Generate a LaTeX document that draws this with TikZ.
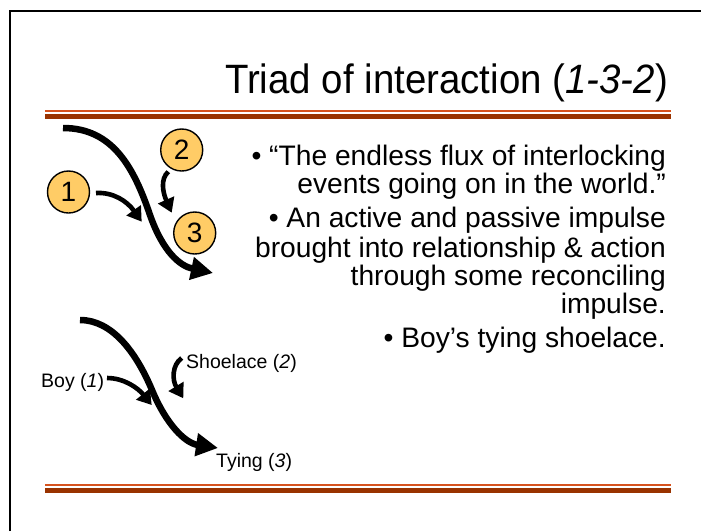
\documentclass[tikz,border=0pt]{standalone}
\usepackage{fontspec}
\usepackage{graphicx}
\setmainfont{Liberation Sans}
\usetikzlibrary{arrows.meta}
\definecolor{rulethin}{RGB}{214,82,30}
\definecolor{rulethick}{RGB}{153,51,0}
\definecolor{ballfill}{RGB}{255,204,102}
\tikzset{
 ball/.style={circle,draw=black,line width=1.4pt,fill=ballfill,minimum size=42pt,inner sep=0pt,font=\fontsize{28}{30}\selectfont},
 flow/.style={line width=6.5pt,-{Triangle[length=22pt,width=22pt]}},
 feed/.style={line width=4.6pt,-{Triangle[length=14pt,width=17pt]}},
 bodyline/.style={anchor=base east,inner sep=0pt,font=\fontsize{28.2}{30}\selectfont},
 lab/.style={anchor=base west,inner sep=0pt,font=\fontsize{19.5}{21}\selectfont},
 thinrule/.style={rulethin,line width=2pt},
 thickrule/.style={rulethick,line width=5.5pt},
}
\begin{document}
\begin{tikzpicture}[x=1pt,y=-1pt]
\useasboundingbox (0,0) rectangle (701,531);
\fill[white] (0,0) rectangle (701,531);
% slide frame
\coordinate (fb) at (9.5,531);
\coordinate (fc) at (9.5,11);
\coordinate (fr) at (701,11);
\draw[line width=2pt] (fb) -- (fc) -- (fr);
% rules
\coordinate (r1a) at (45,110.8); \coordinate (r1b) at (671,110.8);
\coordinate (r2a) at (45,116.7); \coordinate (r2b) at (671,116.7);
\coordinate (r3a) at (45,484.5); \coordinate (r3b) at (671,484.5);
\coordinate (r4a) at (45,490.3); \coordinate (r4b) at (671,490.3);
\draw[thinrule] (r1a) -- (r1b);
\draw[thickrule] (r2a) -- (r2b);
\draw[thinrule] (r3a) -- (r3b);
\draw[thickrule] (r4a) -- (r4b);
% title
\node[anchor=base east,inner sep=0pt,font=\fontsize{41}{43}\selectfont] (title) at (668,93) {\scalebox{0.937}[1]{Triad of interaction (\textit{1-3-2})}};
% body text
\node[bodyline] (l1) at (666,165) {• “The endless flux of interlocking};
\node[bodyline] (l2) at (666,193) {events going on in the world.”};
\node[bodyline] (l3) at (666,227.5) {• An active and passive impulse};
\node[bodyline] (l4) at (666,257) {brought into relationship \& action};
\node[bodyline] (l5) at (666,285) {through some reconciling};
\node[bodyline] (l6) at (666,313) {impulse.};
\node[bodyline] (l7) at (666,347) {• Boy’s tying shoelace.};
% top diagram
\coordinate (f1s) at (63,128);
\coordinate (f1e) at (213,273);
\draw[flow] (f1s) .. controls (113,128) and (134,168) .. (150,215) .. controls (163,252) and (180,266) .. (f1e);
\node[ball] (c1) at (68.5,192) {1};
\node[ball] (c2) at (181.7,150) {2};
\node[ball] (c3) at (194.7,233) {3};
\coordinate (a1s) at (96,193);
\coordinate (a1e) at (141.7,221.7);
\draw[feed] (a1s) .. controls (113,192) and (127,201) .. (a1e);
\coordinate (a2s) at (168.3,171.7);
\coordinate (a2e) at (171.7,212.7);
\draw[feed] (a2s) .. controls (160,179) and (163,193) .. (a2e);
% bottom diagram
\coordinate (f2s) at (80,320);
\coordinate (f2e) at (218,448);
\draw[flow] (f2s) .. controls (112,320) and (136,352) .. (152,390) .. controls (166,424) and (185,443) .. (f2e);
\node[lab] (boy) at (41,387) {Boy (\textit{1})};
\node[lab] (lace) at (186,368.3) {Shoelace (\textit{2})};
\node[lab] (tying) at (216,467.7) {Tying (\textit{3})};
\coordinate (b1s) at (107,378);
\coordinate (b1e) at (151.7,405);
\draw[feed] (b1s) .. controls (124,378) and (138,388) .. (b1e);
\coordinate (b2s) at (181.7,358);
\coordinate (b2e) at (183.3,398.3);
\draw[feed] (b2s) .. controls (172,365) and (172,380) .. (b2e);
\end{tikzpicture}
\end{document}
